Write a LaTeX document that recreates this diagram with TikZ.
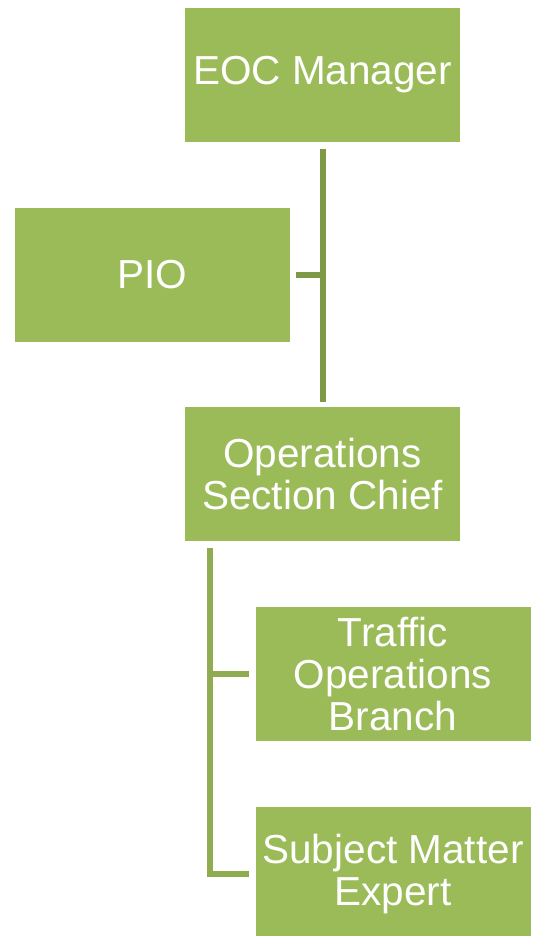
\documentclass[tikz,border=0pt]{standalone}
\usepackage{fontspec}
\setmainfont{Liberation Sans}
\usepackage{tikz}
\usetikzlibrary{positioning, calc}
\definecolor{olivefill}{HTML}{9BBB59}
\definecolor{olivedark}{HTML}{7E9A47}
\definecolor{olivelink}{HTML}{8FAC51}

\begin{document}
\begin{tikzpicture}[x=1pt, y=-1pt,
  role/.style={rectangle, fill=olivefill, draw=none, minimum width=275pt,
    minimum height=134pt, text=white, align=center, inner sep=2pt,
    font=\fontsize{40.5}{42}\selectfont},
  link/.style={draw=#1, line width=6pt}
]
  \useasboundingbox (0,0) rectangle (537,936);

  % Command staff
  \node[role] (eoc) at (322.5, 75) {EOC Manager};
  \node[role] (pio) at (152.5, 275) {PIO};
  \node[role] (ops) at (322.5, 474) {Operations\\Section Chief};

  % Operations section
  \node[role] (traffic) at (393, 674) {Traffic\\Operations\\Branch};
  \node[role] (sme) at (393, 874) {Subject Matter\\Expert};

  % Links
  \draw[link=olivedark] ([yshift=-7pt]eoc.south) -- ([yshift=5pt]ops.north);
  \draw[link=olivedark] ([xshift=6pt]pio.east) -- (pio.east -| eoc.south);
  \coordinate (trunk) at ([xshift=25.5pt, yshift=-7pt]ops.south west);
  \draw[link=olivelink] (trunk) |- ([xshift=-6pt]sme.west);
  \draw[link=olivelink] (trunk |- traffic.west) -- ([xshift=-6pt]traffic.west);
\end{tikzpicture}
\end{document}
